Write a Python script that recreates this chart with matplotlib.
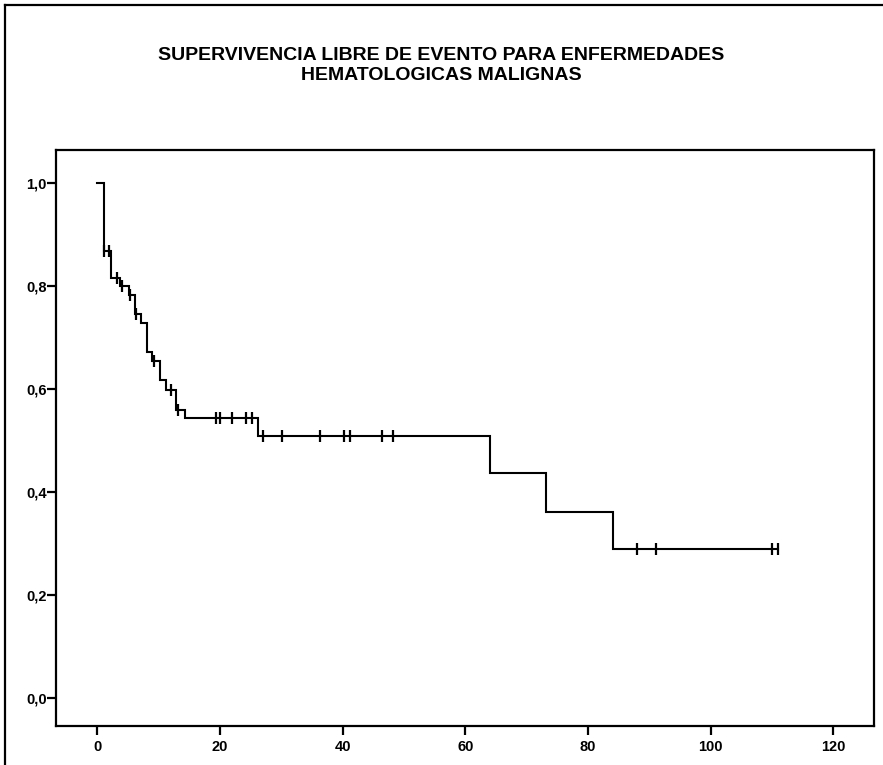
import matplotlib
matplotlib.use("Agg")
import matplotlib.pyplot as plt
from matplotlib.lines import Line2D
from matplotlib.ticker import FixedLocator, FuncFormatter

# ---- data ----
title_lines = ["SUPERVIVENCIA LIBRE DE EVENTO PARA ENFERMEDADES", "HEMATOLOGICAS MALIGNAS"]
event_times = [1.1, 2.2, 3.7, 5.2, 6.1, 7.2, 8.2, 9.0, 10.2, 11.2, 12.9, 14.3, 26.2, 64.1, 73.1, 84.0]
survival = [0.868, 0.816, 0.800, 0.783, 0.746, 0.728, 0.672, 0.654, 0.617, 0.599, 0.559, 0.543,
            0.509, 0.436, 0.362, 0.290]
censor_times = [1.2, 2.0, 3.2, 4.0, 5.3, 6.3, 9.2, 12.1, 13.2, 19.3, 20.0, 22.0, 24.3, 25.2,
                27.0, 30.2, 36.3, 40.3, 41.2, 46.4, 48.2, 88.0, 91.0, 110.0, 111.0]
end_time = 111.0
x_ticks = [0, 20, 40, 60, 80, 100, 120]
y_ticks = [0.0, 0.2, 0.4, 0.6, 0.8, 1.0]

plt.rcParams['font.family'] = ['Liberation Sans', 'DejaVu Sans']

W, H = 883, 765
fig = plt.figure(figsize=(W / 100, H / 100), dpi=100)
fig.patch.set_facecolor('white')

ax_l, ax_r, ax_t, ax_b = 56, 874, 150, 726
ax = fig.add_axes([ax_l / W, 1 - ax_b / H, (ax_r - ax_l) / W, (ax_b - ax_t) / H])

# step curve
t = [0.0] + event_times + [end_time]
s = [1.0] + survival + [survival[-1]]
ax.step(t, s, where='post', color='black', lw=1.5, solid_joinstyle='miter')


def surv_at(x):
    val = 1.0
    for et, sv in zip(event_times, survival):
        if et <= x:
            val = sv
    return val


cy = [surv_at(c) for c in censor_times]
ax.plot(censor_times, cy, linestyle='none', marker='|', markersize=9, mew=1.6, color='black')

ax.set_xlim(-6.7, 126.6)
ax.set_ylim(-0.055, 1.065)
ax.xaxis.set_major_locator(FixedLocator(x_ticks))
ax.yaxis.set_major_locator(FixedLocator(y_ticks))
ax.yaxis.set_major_formatter(FuncFormatter(lambda v, p: f"{v:.1f}".replace('.', ',')))
ax.xaxis.set_major_formatter(FuncFormatter(lambda v, p: f"{int(v)}"))
ax.tick_params(axis='both', direction='out', length=6.3, width=1.6, colors='black', labelsize=10.5)
ax.tick_params(axis='y', pad=0.5)
ax.tick_params(axis='x', pad=4)
for lab in ax.get_xticklabels() + ax.get_yticklabels():
    lab.set_fontweight('bold')
for sp in ax.spines.values():
    sp.set_linewidth(1.6)
    sp.set_color('black')

# title
fig.text(0.5, 1 - 56 / H, title_lines[0], ha='center', va='center', fontsize=14, fontweight='bold')
fig.text(0.5, 1 - 75 / H, title_lines[1], ha='center', va='center', fontsize=14, fontweight='bold')

# outer frame (left and top)
fx0, fx1, fy0 = 5 / W, 1.0, 1 - 5 / H
fig.add_artist(Line2D([fx0, fx0], [0, fy0], transform=fig.transFigure, color='black', lw=1.6))
fig.add_artist(Line2D([fx0, fx1], [fy0, fy0], transform=fig.transFigure, color='black', lw=1.6))

fig.savefig('out.png', dpi=100, facecolor='white')
